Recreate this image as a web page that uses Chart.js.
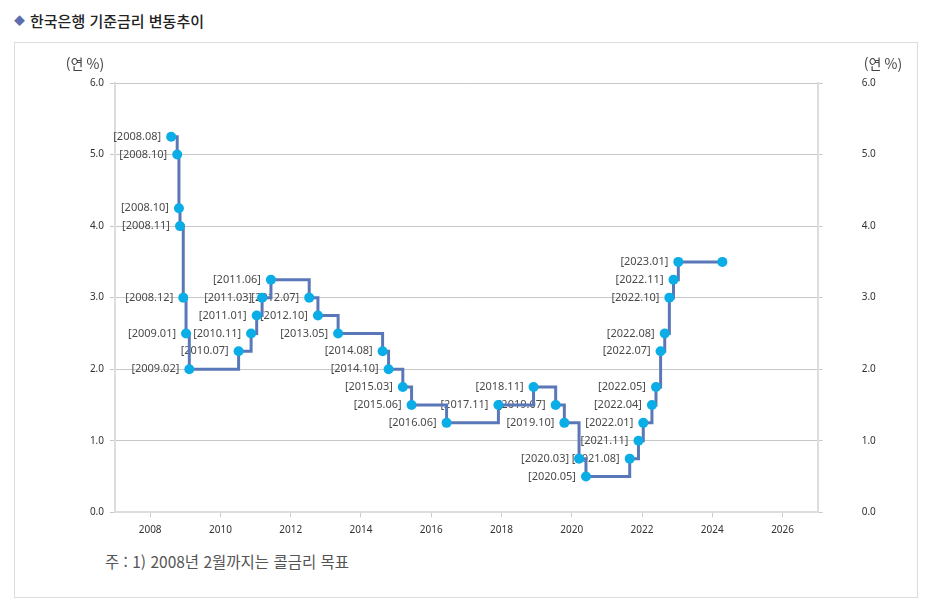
<!DOCTYPE html>
<html lang="ko">
<head>
<meta charset="utf-8">
<script src="https://cdn.jsdelivr.net/npm/chart.js@4/dist/chart.umd.min.js"></script>
<style>
	body { margin: 0; background: #fff; width: 930px; height: 600px; position: relative; overflow: hidden; }
	.title { position: absolute; left: 14px; top: 10px; font: 500 15px "Noto Sans CJK KR", sans-serif; color: #222; }
	.title span { color: #5b6fae; font-size: 11px; margin-right: 5px; position: relative; top: -2px; }
	.box { position: absolute; left: 14px; top: 42px; width: 902px; height: 554px; border: 1px solid #ddd; }
	.box canvas { position: absolute; left: 0; top: 0; }
	.note { position: absolute; left: 90px; top: 507px; font: 15.5px "Noto Sans CJK KR", sans-serif; color: #555; }
</style>
</head>
<body>
<div class="title"><span>&#9670;</span>한국은행 기준금리 변동추이</div>
<div class="box">
	<canvas id="myChart" width="902" height="500"></canvas>
	<div class="note">주 : 1) 2008년 2월까지는 콜금리 목표</div>
</div>
<script>
// change dates, rates (% per year) and the tag shown next to each point
var rateDates = ['2008-08-07','2008-10-09','2008-10-27','2008-11-07','2008-12-11','2009-01-09','2009-02-12',
	'2010-07-09','2010-11-16','2011-01-13','2011-03-10','2011-06-10','2012-07-12','2012-10-11','2013-05-09',
	'2014-08-14','2014-10-15','2015-03-12','2015-06-11','2016-06-09','2017-11-30','2018-11-30','2019-07-18',
	'2019-10-16','2020-03-17','2020-05-28','2021-08-26','2021-11-25','2022-01-14','2022-04-14','2022-05-26',
	'2022-07-13','2022-08-25','2022-10-12','2022-11-24','2023-01-13','2024-04-15'];
var rateValues = [5.25,5.00,4.25,4.00,3.00,2.50,2.00,
	2.25,2.50,2.75,3.00,3.25,3.00,2.75,2.50,
	2.25,2.00,1.75,1.50,1.25,1.50,1.75,1.50,
	1.25,0.75,0.50,0.75,1.00,1.25,1.50,1.75,
	2.25,2.50,3.00,3.25,3.50,3.50];
var rateLabels = ['2008.08','2008.10','2008.10','2008.11','2008.12','2009.01','2009.02',
	'2010.07','2010.11','2011.01','2011.03','2011.06','2012.07','2012.10','2013.05',
	'2014.08','2014.10','2015.03','2015.06','2016.06','2017.11','2018.11','2019.07',
	'2019.10','2020.03','2020.05','2021.08','2021.11','2022.01','2022.04','2022.05',
	'2022.07','2022.08','2022.10','2022.11','2023.01',''];
var yearTicks = [2008,2010,2012,2014,2016,2018,2020,2022,2024,2026];
var rateTicks = [0,1,2,3,4,5,6];

function toYear(s){
	var d = new Date(s + 'T00:00:00Z');
	var start = Date.UTC(d.getUTCFullYear(), 0, 1);
	var end = Date.UTC(d.getUTCFullYear() + 1, 0, 1);
	return d.getUTCFullYear() + (d - start) / (end - start);
}

var points = [];
rateDates.map((item, i) => {
	points.push({ x: toYear(item), y: rateValues[i] });
});

var tickFont = { family: 'Noto Sans', size: 10 };

// "[yyyy.mm]" tags left of each point, drawn under the line
var pointTags = {
	id: 'pointTags',
	beforeDatasetsDraw: function(chart){
		var c = chart.ctx, meta = chart.getDatasetMeta(0);
		c.save();
		c.font = '11px "Noto Sans", "Noto Sans CJK KR", sans-serif';
		c.fillStyle = '#4a4a4a';
		c.textAlign = 'right';
		c.textBaseline = 'middle';
		meta.data.forEach(function(pt, i){
			if(rateLabels[i]) c.fillText('[' + rateLabels[i] + ']', pt.x - 10, pt.y);
		});
		c.restore();
	}
};

// "(연 %)" unit captions over both y axes
var unitTitles = {
	id: 'unitTitles',
	afterDraw: function(chart){
		var c = chart.ctx;
		c.save();
		c.font = '14px "Noto Sans CJK KR", sans-serif';
		c.fillStyle = '#444';
		c.textAlign = 'center';
		c.textBaseline = 'middle';
		c.fillText('(연 %)', 70, 21);
		c.fillText('(연 %)', 868, 21);
		c.restore();
	}
};

var ctx = document.getElementById('myChart');
var myChart = new Chart(ctx, {
	type: 'line',
	data: {
		datasets: [{
			data: points,
			stepped: true,
			borderColor: '#5a78b8',
			borderWidth: 3,
			pointRadius: 5,
			pointHoverRadius: 5,
			pointBackgroundColor: '#0aade6',
			pointBorderWidth: 0,
			fill: false
		}]
	},
	options: {
		responsive: false,
		animation: false,
		layout: { padding: { top: 40, left: 0, right: 0, bottom: 0 } },
		plugins: { legend: { display: false }, tooltip: { enabled: false } },
		scales: {
			x: {
				type: 'linear',
				min: 2007,
				max: 2027,
				afterBuildTicks: function(s){ s.ticks = yearTicks.map(v => ({ value: v })); },
				afterFit: function(s){ s.height = 30.7; },
				grid: { drawOnChartArea: false, tickLength: 5, color: '#ccc' },
				border: { color: '#ddd', width: 2 },
				ticks: { font: tickFont, color: '#333', padding: 7, callback: v => String(v) }
			},
			y: {
				position: 'left',
				min: 0,
				max: 6,
				afterBuildTicks: function(s){ s.ticks = rateTicks.map(v => ({ value: v })); },
				afterFit: function(s){ s.width = 100; s.paddingTop = 6; s.paddingBottom = 6; },
				grid: { color: '#c8c8c8', tickLength: 5 },
				border: { color: '#ddd', width: 2 },
				ticks: { font: tickFont, color: '#333', padding: 6, callback: v => v.toFixed(1) }
			},
			y2: {
				position: 'right',
				min: 0,
				max: 6,
				afterBuildTicks: function(s){ s.ticks = rateTicks.map(v => ({ value: v })); },
				afterFit: function(s){ s.width = 99.3; s.paddingTop = 6; s.paddingBottom = 6; },
				grid: { drawOnChartArea: false, color: '#c8c8c8', tickLength: 5 },
				border: { color: '#ddd', width: 2 },
				ticks: { font: tickFont, color: '#333', padding: 39, callback: v => v.toFixed(1) }
			}
		}
	},
	plugins: [pointTags, unitTitles]
});
</script>
</body>
</html>
